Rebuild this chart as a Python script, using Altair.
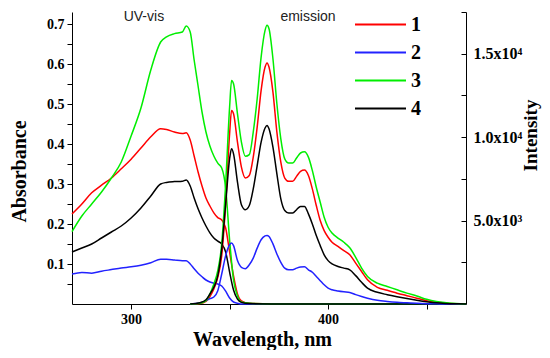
import altair as alt
import pandas as pd

# ---------------- data ----------------
series = ["1", "2", "3", "4"]
colors = ["#ff0000", "#2222ff", "#00ee00", "#000000"]

# UV-vis absorbance (left axis)
uv_nm = [270, 275, 280, 285, 290, 295, 300, 305, 310, 315, 318, 322, 326, 328, 330,
         332, 334, 336, 338, 340, 342, 344, 346, 348, 350, 352, 354, 356, 360, 380, 470]
uv_1 = [0.225, 0.250, 0.278, 0.297, 0.315, 0.338, 0.362, 0.390, 0.418, 0.438, 0.436, 0.430,
        0.426, 0.428, 0.410, 0.370, 0.330, 0.295, 0.265, 0.245, 0.228, 0.216, 0.210, 0.190,
        0.130, 0.070, 0.025, 0.008, 0.002, 0.0, 0.0]
uv_2 = [0.075, 0.079, 0.077, 0.082, 0.086, 0.090, 0.093, 0.097, 0.103, 0.112, 0.112, 0.110,
        0.108, 0.108, 0.100, 0.088, 0.077, 0.068, 0.060, 0.055, 0.052, 0.050, 0.045, 0.032,
        0.015, 0.005, 0.002, 0.0, 0.0, 0.0, 0.0]
uv_3 = [0.181, 0.220, 0.250, 0.280, 0.315, 0.355, 0.420, 0.490, 0.585, 0.655, 0.668, 0.676,
        0.680, 0.695, 0.680, 0.610, 0.545, 0.480, 0.430, 0.395, 0.370, 0.352, 0.340, 0.290,
        0.160, 0.060, 0.020, 0.005, 0.002, 0.0, 0.0]
uv_4 = [0.130, 0.140, 0.150, 0.165, 0.180, 0.195, 0.215, 0.240, 0.270, 0.300, 0.304, 0.306,
        0.307, 0.310, 0.295, 0.265, 0.238, 0.215, 0.195, 0.178, 0.165, 0.157, 0.150, 0.130,
        0.080, 0.035, 0.012, 0.004, 0.001, 0.0, 0.0]

# Emission intensity (right axis)
em_nm = [330, 335, 338, 340, 342, 344, 346, 348, 350, 351, 352, 354, 356, 358, 360, 362, 364,
         366, 368, 369, 370, 372, 374, 376, 378, 380, 382, 384, 386, 388, 390, 392, 394, 396,
         398, 400, 402, 405, 408, 411, 414, 417, 420, 425, 430, 435, 440, 445, 450, 455, 460,
         465, 470]
em_1 = [0, 30, 150, 450, 900, 1600, 2900, 6000, 10200, 11600, 11400, 9700, 8200, 7550, 7700,
        8800, 10600, 12800, 14200, 14450, 14200, 12700, 10300, 8500, 7550, 7350, 7350, 7650,
        7950, 8030, 7700, 6900, 5900, 5000, 4400, 4000, 3700, 3450, 3200, 2950, 2450, 1950,
        1450, 1000, 820, 650, 500, 350, 200, 100, 50, 20, 0]
em_2 = [0, 60, 200, 320, 420, 800, 1800, 2900, 3550, 3650, 3500, 2600, 2200, 2120, 2350,
        2750, 3350, 3850, 4080, 4110, 4050, 3600, 3000, 2500, 2150, 2050, 2050, 2150, 2220,
        2230, 2050, 1900, 1650, 1400, 1150, 950, 850, 780, 730, 690, 560, 450, 350, 220, 150,
        100, 70, 40, 20, 10, 0, 0, 0]
em_3 = [0, 50, 200, 600, 1200, 2000, 3600, 7200, 11800, 13400, 13200, 11400, 9700, 8850, 8950,
        10300, 12300, 14800, 16400, 16700, 16500, 14700, 12000, 9900, 8700, 8450, 8450, 8750,
        9050, 9120, 8800, 8000, 7000, 6100, 5200, 4600, 4250, 3950, 3700, 3370, 2800, 2150,
        1650, 1250, 1050, 850, 650, 480, 280, 150, 80, 30, 0]
em_4 = [0, 80, 250, 600, 1000, 1700, 3300, 6000, 8700, 9300, 9000, 7300, 5950, 5650, 5900,
        6900, 8300, 9700, 10550, 10700, 10500, 9400, 7800, 6300, 5600, 5450, 5450, 5650, 5850,
        5850, 5400, 4800, 4100, 3500, 2950, 2600, 2400, 2250, 2150, 2050, 1700, 1300, 950,
        700, 560, 440, 330, 230, 140, 70, 35, 15, 0]

ann_text = ["UV-vis", "emission"]
ann_nm = [306.5, 389.8]
ann_abs = [0.717, 0.717]

x_ticks = [300, 350, 400, 450]
abs_ticks = [round(0.05 * i, 2) for i in range(1, 15)]
int_label_ticks = [5000, 10000, 15000]
int_ticks = [2500, 5000, 7500, 10000, 12500, 15000, 17500]

# ---------------- frames ----------------
uv_df = pd.DataFrame(
    [{"nm": n, "A": v, "s": s} for s, vals in zip(series, [uv_1, uv_2, uv_3, uv_4])
     for n, v in zip(uv_nm, vals)])
em_df = pd.DataFrame(
    [{"nm": n, "I": v, "s": s} for s, vals in zip(series, [em_1, em_2, em_3, em_4])
     for n, v in zip(em_nm, vals)])
ann_df = pd.DataFrame({"t": ann_text, "nm": ann_nm, "A": ann_abs})

SERIF = "Liberation Serif"
xscale = alt.Scale(domain=[270, 470], nice=False, zero=False)
ascale = alt.Scale(domain=[0, 0.73], nice=False, zero=False)
iscale = alt.Scale(domain=[0, 17500], nice=False, zero=False)
cscale = alt.Scale(domain=series, range=colors)

legend = alt.Legend(
    orient="none", legendX=282, legendY=2.5, title=None,
    symbolType="stroke", symbolSize=2601, symbolStrokeWidth=2,
    clipHeight=20, rowPadding=8, labelOffset=4, padding=0, offset=0,
    labelFont=SERIF, labelFontSize=20, labelFontWeight="bold", labelColor="black",
)

x_enc = alt.X("nm:Q", scale=xscale, axis=alt.Axis(
    values=x_ticks, labelExpr="datum.value % 100 == 0 ? datum.label : ''",
    tickSize=5, labelPadding=3, labelFlush=False, labelOverlap=False,
    labelFont=SERIF, labelFontSize=14, labelFontWeight="bold",
    title="Wavelength, nm", titleFont=SERIF, titleFontSize=20, titleFontWeight="bold",
    titleX=190, titleY=41, titleBaseline="alphabetic", titleAlign="center",
))

uv_line = alt.Chart(uv_df).mark_line(strokeWidth=1.5, interpolate="monotone").encode(
    x=x_enc,
    y=alt.Y("A:Q", scale=ascale, axis=alt.Axis(
        orient="left", values=abs_ticks,
        labelExpr="round(datum.value*100) % 10 == 0 ? format(datum.value, '.1f') : ''",
        tickSize=5, labelPadding=3, labelOverlap=False, labelFlush=False,
        labelFont=SERIF, labelFontSize=14, labelFontWeight="bold",
        title="Absorbance", titleFont=SERIF, titleFontSize=20, titleFontWeight="bold",
        titleAngle=270, titleX=-47, titleY=159, titleAlign="center",
        titleBaseline="alphabetic",
    )),
    color=alt.Color("s:N", scale=cscale, legend=legend),
    detail="s:N",
)

ann = alt.Chart(ann_df).mark_text(font="Liberation Sans", fontSize=14, color="#222222",
                                  baseline="middle", align="center").encode(
    x=alt.X("nm:Q", scale=xscale),
    y=alt.Y("A:Q", scale=ascale, axis=None),
    text="t:N",
)

em_line = alt.Chart(em_df).mark_line(strokeWidth=1.5, interpolate="monotone").encode(
    x=alt.X("nm:Q", scale=xscale),
    y=alt.Y("I:Q", scale=iscale, axis=alt.Axis(
        orient="right", values=int_label_ticks,
        labelExpr="datum.value == 15000 ? '1.5x10⁴' : datum.value == 10000 ? '1.0x10⁴' : '5.0x10³'",
        ticks=False, tickSize=0, labelPadding=7, labelOverlap=False, labelFlush=False,
        labelFont=SERIF, labelFontSize=16, labelFontWeight="bold",
        title="Intensity", titleFont=SERIF, titleFontSize=19, titleFontWeight="bold",
        titleAngle=270, titleX=70, titleY=123, titleAlign="center",
        titleBaseline="alphabetic",
    )),
    color=alt.Color("s:N", scale=cscale, legend=legend),
    detail="s:N",
)

em_ticks = alt.Chart(em_df).mark_line(opacity=0).encode(
    x=alt.X("nm:Q", scale=xscale),
    y=alt.Y("I:Q", scale=iscale, axis=alt.Axis(
        orient="left", offset=-394, values=int_ticks, labels=False, domain=False,
        ticks=True, tickSize=5, title=None, grid=False,
    )),
    detail="s:N",
)

chart = alt.layer(uv_line, ann, em_line, em_ticks).resolve_scale(
    y="independent"
).properties(
    width=394, height=292,
    autosize=alt.AutoSizeParams(type="none"),
    padding={"left": 64, "top": 4, "right": 76, "bottom": 46},
    background="white",
).configure_view(stroke=None).configure_axis(
    grid=False, domainColor="black", tickColor="black", labelColor="black",
    titleColor="black", domainWidth=1, tickWidth=1,
)

chart.save("out.html", embed_options={"renderer": "svg", "actions": False})
